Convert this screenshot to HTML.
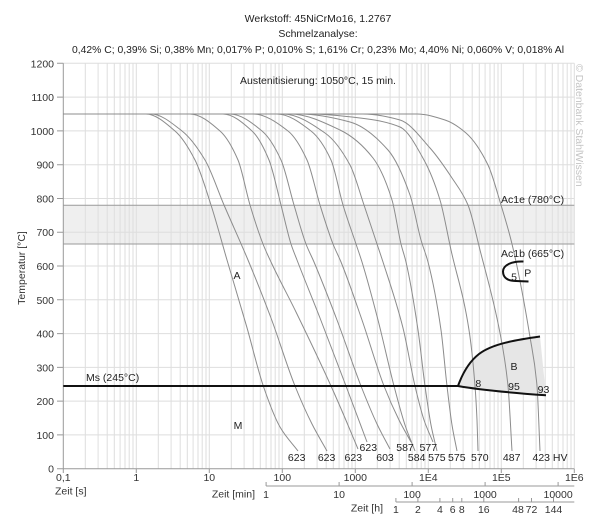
<!DOCTYPE html>
<html><head><meta charset="utf-8"><style>
html,body{margin:0;padding:0;background:#fff;}
svg{display:block;font-family:"Liberation Sans",Arial,sans-serif;}
</style></head><body>
<svg width="605" height="531" viewBox="0 0 605 531" xmlns="http://www.w3.org/2000/svg">
<rect x="0" y="0" width="605" height="531" fill="#fff"/>
<!-- band -->
<rect x="63.3" y="205.2" width="511" height="38.8" fill="#efefef"/>
<!-- grid -->
<path fill="none" stroke="#dedede" stroke-width="1" d="M85.3 63.3V468.7M98.1 63.3V468.7M107.2 63.3V468.7M114.3 63.3V468.7M120.1 63.3V468.7M125 63.3V468.7M129.2 63.3V468.7M133 63.3V468.7M136.3 63.3V468.7M158.3 63.3V468.7M171.1 63.3V468.7M180.2 63.3V468.7M187.3 63.3V468.7M193.1 63.3V468.7M198 63.3V468.7M202.2 63.3V468.7M206 63.3V468.7M209.3 63.3V468.7M231.3 63.3V468.7M244.1 63.3V468.7M253.2 63.3V468.7M260.3 63.3V468.7M266.1 63.3V468.7M271 63.3V468.7M275.2 63.3V468.7M279 63.3V468.7M282.3 63.3V468.7M304.3 63.3V468.7M317.1 63.3V468.7M326.2 63.3V468.7M333.3 63.3V468.7M339.1 63.3V468.7M344 63.3V468.7M348.2 63.3V468.7M352 63.3V468.7M355.3 63.3V468.7M377.3 63.3V468.7M390.1 63.3V468.7M399.2 63.3V468.7M406.3 63.3V468.7M412.1 63.3V468.7M417 63.3V468.7M421.2 63.3V468.7M425 63.3V468.7M428.3 63.3V468.7M450.3 63.3V468.7M463.1 63.3V468.7M472.2 63.3V468.7M479.3 63.3V468.7M485.1 63.3V468.7M490 63.3V468.7M494.2 63.3V468.7M498 63.3V468.7M501.3 63.3V468.7M523.3 63.3V468.7M536.1 63.3V468.7M545.2 63.3V468.7M552.3 63.3V468.7M558.1 63.3V468.7M563 63.3V468.7M567.2 63.3V468.7M571 63.3V468.7M574.3 63.3V468.7
M63.3 63.3H574.3M63.3 97.1H574.3M63.3 130.9H574.3M63.3 164.7H574.3M63.3 198.5H574.3M63.3 232.2H574.3M63.3 266H574.3M63.3 299.8H574.3M63.3 333.6H574.3M63.3 367.4H574.3M63.3 401.1H574.3M63.3 434.9H574.3"/>
<!-- band borders -->
<path fill="none" stroke="#9a9a9a" stroke-width="1" d="M63.3 205.2H574.3M63.3 244H574.3"/>
<!-- axes -->
<path fill="none" stroke="#999" stroke-width="1" d="M63.3 63.3V468.7M63.3 468.7H574.3
M57 63.3H63.3M57 97.1H63.3M57 130.9H63.3M57 164.7H63.3M57 198.5H63.3M57 232.2H63.3M57 266H63.3M57 299.8H63.3M57 333.6H63.3M57 367.4H63.3M57 401.1H63.3M57 434.9H63.3M57 468.7H63.3
M63.3 468.7V473M136.3 468.7V473M209.3 468.7V473M282.3 468.7V473M355.3 468.7V473M428.3 468.7V473M501.3 468.7V473M574.3 468.7V473
M266.1 486H574.3M266.1 482V486M339.1 482V486M412.1 482V486M485.1 482V486M558.1 482V486
M395.9 502H574.3M395.9 498V502M417.9 498V502M439.9 498V502M452.7 498V502M461.8 498V502M483.8 498V502M518.6 498V502M531.5 498V502M553.5 498V502"/>
<!-- bainite shading -->
<path fill="#e6e6e6" stroke="none" d="M458,386 C463,372 470,361 479,354 C492,344 515,340 540,336.5 L546,395.3 C500,392 475,389 458,386 Z"/>
<!-- cooling curves -->
<g fill="none" stroke="#8c8c8c" stroke-width="1">
<path class="cc" d="M63,114 L146,114 L175,131 L195,160 L211,205 L227,260 L246.7,326.7 L263.3,386 L280,427 L298,451"/>
<path class="cc" d="M63,114 L151,114 L182,131 L205,160 L224,205 L248,260 L271,318 L295,386 L312,424 L327,451"/>
<path class="cc" d="M63,114 L190,114 L220,131 L238,160 L250,205 L263,244 L271,262 L296,312 L331,386 L345,418 L358,449"/>
<path class="cc" d="M63,114 L223,114 L252,131 L269,160 L281,205 L291,244 L297,260 L320,318 L346,386 L367,442"/>
<path class="cc" d="M63,114 L230,114 L262,131 L281,160 L294,205 L306,244 L314,262 L337,320 L361,386 L377,424 L390,449"/>
<path class="cc" d="M63,114 L253,114 L288,131 L307,160 L320,205 L333,244 L341,262 L362,320 L384,386 L399,420 L411,442"/>
<path class="cc" d="M63,114 L277,114 L311,131 L331,160 L343,205 L356,244 L362,262 L378,320 L394,386 L405,425 L415,451"/>
<path class="cc" d="M63,114 L283,114 L325,133 L350,165 L364,205 L377,244 L383,262 L403,328 L415,386 L424,420 L433,442"/>
<path class="cc" d="M63,114 L290,114 L340,130 L373,158 L392,200 L401,244 L406,262 L418,330 L425,386 L431,425 L437,451"/>
<path class="cc" d="M63,114 L300,114 L350,122 L388,150 L410,195 L421,240 L428,262 L441,330 L447,386 L452,425 L457,451"/>
<path class="cc" d="M63,114 L310,114 L360,118 L400,127 L424,160 L440,200 L451,250 L469,330 L475,386 L477,420 L478,451"/>
<path class="cc" d="M63,114 L363,114 L400,120 L430,148 L452,178 L468,205 L480,250 L500,333 L508,386 L512,451"/>
<path class="cc" d="M63,114 L417,114 L445,120 L466,133 L488,165 L501,205 L512,244 L530,337 L537,386 L540,451"/>
</g>
<!-- thick lines -->
<g fill="none" stroke="#111" stroke-width="2">
<path d="M63.3,386 H458"/>
<path d="M458,386 C463,372 470,361 479,354 C492,344 515,340 540,336.5"/>
<path d="M458,386 C475,389 500,392 546,395.3"/>
<path d="M523.5,261.5 C512,261 503,265 503,271.5 C503,278 508,281 516,281 L528.5,281.5"/>
</g>
<!-- titles -->
<g fill="#222" font-size="10.5" text-anchor="middle">
<text x="318" y="22">Werkstoff: 45NiCrMo16, 1.2767</text>
<text x="318" y="37">Schmelzanalyse:</text>
<text x="318" y="53" textLength="492" lengthAdjust="spacingAndGlyphs">0,42% C; 0,39% Si; 0,38% Mn; 0,017% P; 0,010% S; 1,61% Cr; 0,23% Mo; 4,40% Ni; 0,060% V; 0,018% Al</text>
<text x="318" y="84">Austenitisierung: 1050°C, 15 min.</text>
</g>
<!-- y tick labels -->
<g fill="#333" font-size="10.5" text-anchor="end">
<text x="54" y="67.3">1200</text>
<text x="54" y="101.1">1100</text>
<text x="54" y="134.9">1000</text>
<text x="54" y="168.7">900</text>
<text x="54" y="202.5">800</text>
<text x="54" y="236.2">700</text>
<text x="54" y="270">600</text>
<text x="54" y="303.8">500</text>
<text x="54" y="337.6">400</text>
<text x="54" y="371.4">300</text>
<text x="54" y="405.1">200</text>
<text x="54" y="438.9">100</text>
<text x="54" y="472.7">0</text>
</g>
<text fill="#333" font-size="10.5" text-anchor="middle" transform="translate(25,268) rotate(-90)">Temperatur [°C]</text>
<!-- x tick labels -->
<g fill="#333" font-size="10.5" text-anchor="middle">
<text x="63.3" y="481">0,1</text>
<text x="136.3" y="481">1</text>
<text x="209.3" y="481">10</text>
<text x="282.3" y="481">100</text>
<text x="355.3" y="481">1000</text>
<text x="428.3" y="481">1E4</text>
<text x="501.3" y="481">1E5</text>
<text x="574.3" y="481">1E6</text>
<text x="266.1" y="498">1</text>
<text x="339.1" y="498">10</text>
<text x="412.1" y="498">100</text>
<text x="485.1" y="498">1000</text>
<text x="558.1" y="498">10000</text>
<text x="395.9" y="513">1</text>
<text x="417.9" y="513">2</text>
<text x="439.9" y="513">4</text>
<text x="452.7" y="513">6</text>
<text x="461.8" y="513">8</text>
<text x="483.8" y="513">16</text>
<text x="518" y="513">48</text>
<text x="531.5" y="513">72</text>
<text x="553.5" y="513">144</text>
</g>
<g fill="#333" font-size="10.5">
<text x="55" y="494.5">Zeit [s]</text>
<text x="255" y="497.5" text-anchor="end">Zeit [min]</text>
<text x="383" y="511.5" text-anchor="end">Zeit [h]</text>
</g>
<!-- annotations -->
<g fill="#222" font-size="10.5">
<text x="501" y="203">Ac1e (780°C)</text>
<text x="501" y="257">Ac1b (665°C)</text>
<text x="86" y="381">Ms (245°C)</text>
</g>
<g fill="#222" font-size="10.5" text-anchor="middle">
<text x="237" y="279">A</text>
<text x="238" y="429">M</text>
<text x="514" y="370">B</text>
<text x="478.3" y="387">8</text>
<text x="514" y="390">95</text>
<text x="543.5" y="393">93</text>
<text x="514" y="280.5">5</text>
<text x="527.7" y="276.5">P</text>
<text x="296.7" y="461">623</text>
<text x="326.6" y="461">623</text>
<text x="353.3" y="461">623</text>
<text x="368.3" y="451">623</text>
<text x="385" y="461">603</text>
<text x="405" y="451">587</text>
<text x="416.7" y="461">584</text>
<text x="428.3" y="451">577</text>
<text x="436.9" y="461">575</text>
<text x="456.8" y="461">575</text>
<text x="479.8" y="461">570</text>
<text x="511.7" y="461">487</text>
</g>
<text fill="#222" font-size="10.5" x="532.5" y="461">423 HV</text>
<!-- watermark -->
<text fill="#c4c4c4" font-size="10.5" transform="translate(576,64) rotate(90)">© Datenbank StahlWissen</text>
</svg>
<script>
(function(){
  var ps=document.querySelectorAll('path.cc');
  for(var k=0;k<ps.length;k++){
    var p=ps[k];
    var nums=p.getAttribute('d').match(/-?\d+(\.\d+)?/g).map(Number);
    var pts=[];for(var i=0;i<nums.length;i+=2)pts.push([nums[i],nums[i+1]]);
    var n=pts.length,dx=[],d=[],m=[];
    for(i=0;i<n-1;i++){dx[i]=pts[i+1][0]-pts[i][0];d[i]=(pts[i+1][1]-pts[i][1])/dx[i];}
    m[0]=d[0];m[n-1]=d[n-2];
    for(i=1;i<n-1;i++){
      if(d[i-1]*d[i]<=0)m[i]=0;
      else{var w1=2*dx[i]+dx[i-1],w2=dx[i]+2*dx[i-1];m[i]=(w1+w2)/(w1/d[i-1]+w2/d[i]);}
    }
    var s='M'+pts[0][0]+','+pts[0][1];
    for(i=0;i<n-1;i++){
      var h=dx[i]/3;
      s+=' C'+(pts[i][0]+h).toFixed(2)+','+(pts[i][1]+m[i]*h).toFixed(2)+' '+(pts[i+1][0]-h).toFixed(2)+','+(pts[i+1][1]-m[i+1]*h).toFixed(2)+' '+pts[i+1][0]+','+pts[i+1][1];
    }
    p.setAttribute('d',s);
  }
})();
</script>
</body></html>
